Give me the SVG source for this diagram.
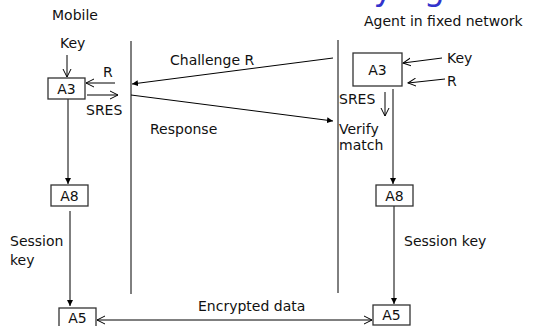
<svg xmlns="http://www.w3.org/2000/svg" width="533" height="326" viewBox="0 0 533 326">
<style>
text{font-family:"DejaVu Sans","Liberation Sans",sans-serif;font-size:14px;fill:#111}
.title{font-size:33px;fill:#3333cc}
.box{fill:#fff;stroke:#333;stroke-width:1.3}
.ln{stroke:#000;stroke-width:1;fill:none}
.mid{text-anchor:middle}
</style>
<defs>
<marker id="open" markerUnits="userSpaceOnUse" markerWidth="10" markerHeight="10" refX="8" refY="4" orient="auto-start-reverse" viewBox="0 0 10 8">
<path d="M0,0 L8,4 L0,8" fill="none" stroke="#000" stroke-width="1"/>
</marker>
<marker id="fill" markerUnits="userSpaceOnUse" markerWidth="6" markerHeight="6" refX="5" refY="2.5" orient="auto" viewBox="0 0 5 5">
<path d="M0,0 L5,2.5 L0,5 Z" fill="#000"/>
</marker>
</defs>
<text class="title" x="10" y="-0.5">Authentication and key agreement</text>
<g id="labels">
<text x="52" y="20">Mobile</text>
<text x="364" y="26">Agent in fixed network</text>
</g>
<g id="connectors">
<line class="ln" x1="131" y1="41" x2="131" y2="294"/>
<line class="ln" x1="338" y1="40" x2="338" y2="293"/>
<line class="ln" x1="67" y1="55" x2="67" y2="77" marker-end="url(#open)"/>
<line class="ln" x1="115" y1="83" x2="86" y2="83" marker-end="url(#open)"/>
<line class="ln" x1="87" y1="95" x2="118" y2="95" marker-end="url(#open)"/>
<line class="ln" x1="68" y1="99" x2="68" y2="184" marker-end="url(#fill)"/>
<line class="ln" x1="70" y1="211" x2="70" y2="306" marker-end="url(#fill)"/>
<line class="ln" x1="333" y1="58" x2="132" y2="84" marker-end="url(#fill)"/>
<line class="ln" x1="131" y1="95" x2="333" y2="121" marker-end="url(#fill)"/>
<line class="ln" x1="442" y1="58" x2="403" y2="63" marker-end="url(#open)"/>
<line class="ln" x1="445" y1="79" x2="408" y2="83" marker-end="url(#open)"/>
<line class="ln" x1="385" y1="92" x2="385" y2="116" marker-end="url(#open)"/>
<line class="ln" x1="393" y1="89" x2="393" y2="184" marker-end="url(#fill)"/>
<line class="ln" x1="394" y1="206" x2="394" y2="304" marker-end="url(#fill)"/>
<line class="ln" x1="97" y1="320" x2="372" y2="320" stroke-width="2" marker-start="url(#open)" marker-end="url(#open)"/>
<text x="170" y="65">Challenge R</text>
<text x="150" y="134">Response</text>
<text x="198" y="311">Encrypted data</text>
<text x="60" y="48">Key</text>
<text x="103" y="77">R</text>
<text x="86" y="115">SRES</text>
<text x="10" y="246">Session</text>
<text x="10" y="265">key</text>
<text x="447" y="63">Key</text>
<text x="447" y="86">R</text>
<text x="339" y="104">SRES</text>
<text x="339" y="134">Verify</text>
<text x="339" y="150">match</text>
<text x="404" y="246">Session key</text>
</g>
<g id="mA3"><rect class="box" x="48" y="78" width="37" height="21"/><text class="mid" x="66.5" y="94">A3</text></g>
<g id="mA8"><rect class="box" x="51" y="185" width="37" height="21"/><text class="mid" x="69.5" y="201">A8</text></g>
<g id="mA5"><rect class="box" x="59" y="308" width="37" height="22"/><text class="mid" x="77.5" y="323">A5</text></g>
<g id="nA3"><rect class="box" x="353" y="53" width="49" height="33"/><text class="mid" x="377.5" y="75">A3</text></g>
<g id="nA8"><rect class="box" x="376" y="185" width="37" height="21"/><text class="mid" x="394.5" y="201">A8</text></g>
<g id="nA5"><rect class="box" x="373" y="305" width="37" height="20"/><text class="mid" x="391.5" y="320">A5</text></g>
</svg>
